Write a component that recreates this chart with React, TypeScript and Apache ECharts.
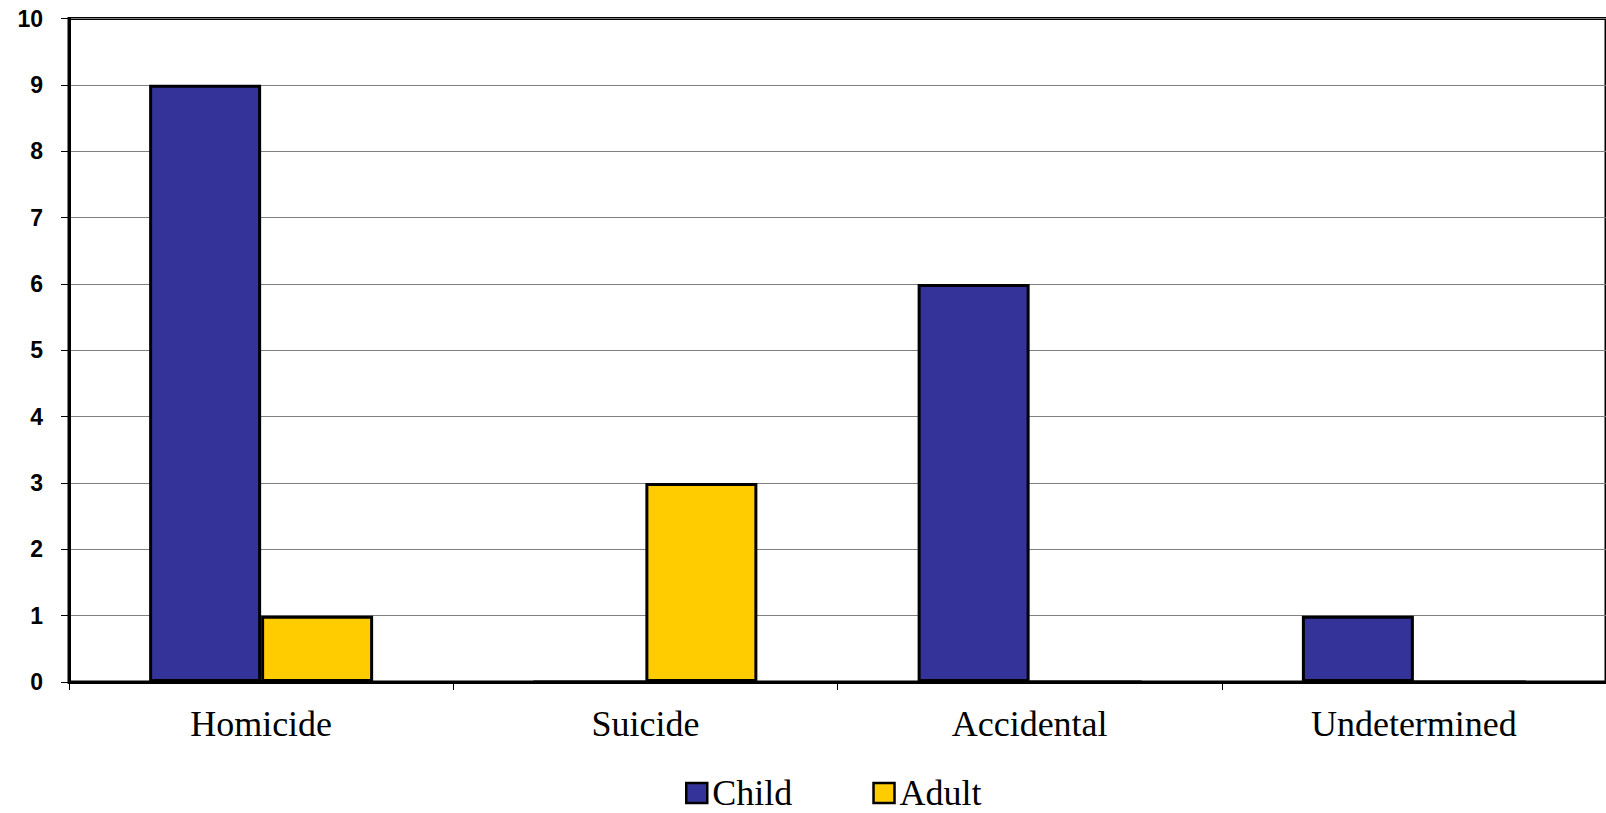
import React, { useEffect, useRef } from "react";
import * as echarts from "echarts";

const categories = ["Homicide", "Suicide", "Accidental", "Undetermined"];
const childValues = [9, 0, 6, 1];
const adultValues = [1, 3, 0, 0];
const seriesNames = ["Child", "Adult"];

export default function App() {
  const ref = useRef<HTMLDivElement>(null);

  useEffect(() => {
    if (!ref.current) return;
    const chart = echarts.init(ref.current, null, { renderer: "svg" });
    const barStyle = (color: string) => ({
      color,
      borderColor: "#000",
      borderWidth: 3,
    });
    chart.setOption({
      animation: false,
      backgroundColor: "#fff",
      grid: {
        left: 69,
        top: 18.5,
        width: 1542,
        height: 663.5,
        show: true,
        borderColor: "#000",
        borderWidth: 3,
        backgroundColor: "transparent",
      },
      legend: {
        data: seriesNames,
        top: 770,
        left: 680,
        itemWidth: 21,
        itemHeight: 20,
        itemGap: 80,
        icon: "rect",
        itemStyle: { borderColor: "#000", borderWidth: 2.5 },
        textStyle: {
          fontFamily: "Liberation Serif",
          fontSize: 36,
          color: "#000",
          padding: [0, 0, 0, 0],
        },
      },
      xAxis: {
        type: "category",
        data: categories,
        axisLine: { lineStyle: { color: "#000", width: 3 } },
        axisTick: {
          show: true,
          length: 8,
          lineStyle: { color: "#000", width: 1 },
        },
        axisLabel: {
          margin: 24,
          fontFamily: "Liberation Serif",
          fontSize: 36,
          color: "#000",
        },
      },
      yAxis: {
        type: "value",
        min: 0,
        max: 10,
        interval: 1,
        axisLine: { show: true, lineStyle: { color: "#000", width: 3 } },
        axisTick: {
          show: true,
          length: 8,
          lineStyle: { color: "#000", width: 1 },
        },
        splitLine: { lineStyle: { color: "#808080", width: 1 } },
        axisLabel: {
          margin: 26,
          fontFamily: "Liberation Sans",
          fontWeight: "bold",
          fontSize: 23,
          color: "#000",
        },
      },
      series: [
        {
          name: seriesNames[0],
          type: "bar",
          data: childValues,
          barWidth: 112,
          barGap: "0%",
          itemStyle: barStyle("#333399"),
        },
        {
          name: seriesNames[1],
          type: "bar",
          data: adultValues,
          barWidth: 112,
          barGap: "0%",
          itemStyle: barStyle("#FFCC00"),
        },
      ],
    });
    return () => chart.dispose();
  }, []);

  return (
    <div
      ref={ref}
      style={{ position: "absolute", left: 0, top: 0, width: 1606, height: 813 }}
    />
  );
}
